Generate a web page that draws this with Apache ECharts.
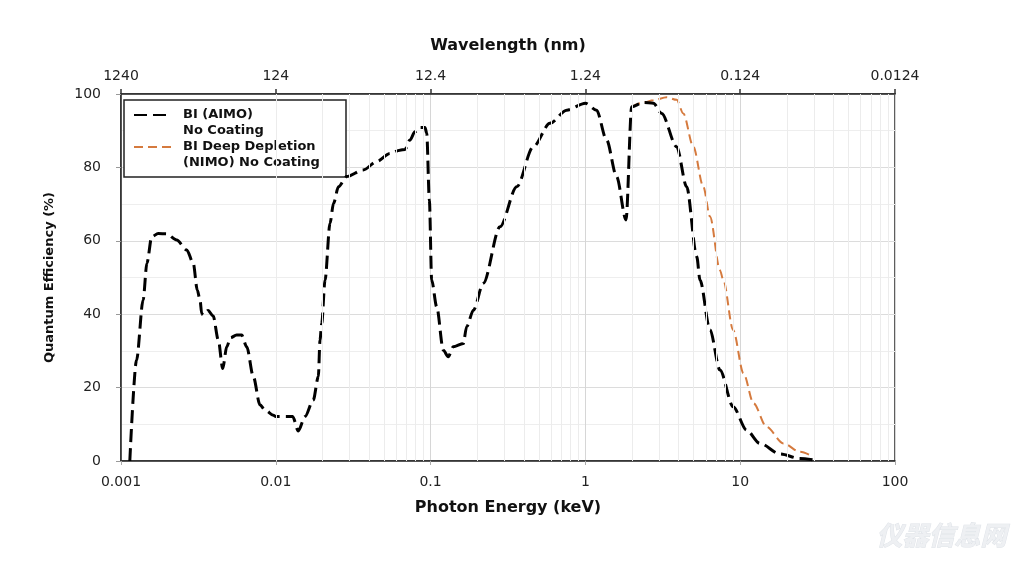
<!DOCTYPE html>
<html>
<head>
<meta charset="utf-8">
<script src="https://cdn.jsdelivr.net/npm/echarts@6/dist/echarts.min.js"></script>
<style>
html,body{margin:0;padding:0;background:#fff;}
#chart{width:1024px;height:569px;}
</style>
</head>
<body>
<div id="chart"></div>
<script>
// ---- data ----
const blackEnergy = [0.00114, 0.00126, 0.00139, 0.00147, 0.00158, 0.00174, 0.00197, 0.00229, 0.00266, 0.00293, 0.00311, 0.00324, 0.00332, 0.00339, 0.00365, 0.00394, 0.00425, 0.00454, 0.00482, 0.0051, 0.00558, 0.00602, 0.00649, 0.00716, 0.0079, 0.00851, 0.00964, 0.0100, 0.01285, 0.01397, 0.01545, 0.01746, 0.01883, 0.0193, 0.0198, 0.0208, 0.0224, 0.0236, 0.0254, 0.0287, 0.0367, 0.0449, 0.0547, 0.0634, 0.0684, 0.0736, 0.0792, 0.0855, 0.092, 0.0944, 0.0982, 0.1016, 0.1095, 0.1208, 0.130, 0.140, 0.1626, 0.171, 0.189, 0.219, 0.2806, 0.36, 0.46, 0.59, 0.757, 1.0, 1.18, 1.37, 1.59, 1.83, 1.99, 2.37, 2.75, 3.11, 3.89, 4.51, 5.24, 5.5, 6.38, 7.4, 9.0, 11.0, 13.4, 18.1, 24.3, 29.6];
const blackQE = [0, 27.5, 43.9, 53.9, 61.1, 62, 61.9, 60.2, 57.5, 53.9, 46.6, 43.9, 40.2, 39.8, 41, 39.5, 33, 25.2, 31.1, 33.6, 34.3, 34.3, 31.1, 23, 15.3, 13.9, 12.5, 12.1, 12.1, 8.2, 12.1, 16.6, 23, 33, 37.5, 49.3, 64.8, 70.2, 74.7, 77.5, 79.3, 81.6, 83.8, 84.7, 84.9, 87.5, 89.7, 90.9, 90.9, 89.3, 71, 49.3, 42, 30.2, 28.4, 31.1, 32, 36.6, 41.1, 48.4, 63.8, 74.7, 85.6, 92, 95.6, 97.5, 95.6, 87.5, 77.5, 65.7, 96.5, 97.7, 97.5, 94.7, 85.6, 74.7, 55.7, 49.3, 35.7, 24.8, 14.8, 8.4, 4.8, 1.9, 0.7, 0.3];

const orangeEnergy = [1.99, 2.37, 2.75, 3.35, 3.89, 4.29, 4.98, 5.78, 6.38, 7.4, 7.78, 9.0, 10.5, 12.2, 14.8, 19.0, 24.3, 29.6];
const orangeQE = [96.5, 97.7, 98.3, 99.1, 98.4, 94.7, 85.6, 74.7, 66.6, 52, 49.3, 35.7, 23.9, 15.7, 9.3, 4.8, 2.5, 1.2];

const energyTickLabels = ['0.001', '0.01', '0.1', '1', '10', '100'];
const wavelengthTickLabels = ['1240', '124', '12.4', '1.24', '0.124', '0.0124'];
const decades = [0.001, 0.01, 0.1, 1, 10];
const minorMultipliers = [2, 3, 4, 5, 6, 7, 8, 9];

const seriesNames = ['BI (AIMO) No Coating', 'BI Deep Depletion (NIMO) No Coating'];
const legendLabels = ['BI (AIMO)\nNo Coating', 'BI Deep Depletion\n(NIMO) No Coating'];

// ---- build ----
const blackData = blackEnergy.map((e, i) => [e, blackQE[i]]);
const orangeData = orangeEnergy.map((e, i) => [e, orangeQE[i]]);
const minorX = [];
decades.forEach(d => minorMultipliers.forEach(m => minorX.push(+(d * m).toPrecision(3))));

const FONT = 'DejaVu Sans';
const tickIdx = v => Math.round(Math.log10(v)) + 3;

const chart = echarts.init(document.getElementById('chart'), null, {renderer: 'canvas'});
chart.setOption({
  animation: false,
  backgroundColor: '#ffffff',
  grid: {left: 121, right: 129, top: 94, bottom: 108, show: true, borderColor: '#2a2a2a', borderWidth: 1.5, backgroundColor: 'transparent'},
  xAxis: [
    {
      type: 'log', logBase: 10, min: 0.001, max: 100, position: 'bottom',
      name: 'Photon Energy (keV)', nameLocation: 'middle', nameGap: 39,
      nameTextStyle: {fontFamily: FONT, fontWeight: 'bold', fontSize: 16, color: '#111'},
      axisLine: {show: true, lineStyle: {color: '#2a2a2a', width: 1.5}},
      axisTick: {show: true, length: 4, lineStyle: {color: '#aaa'}},
      axisLabel: {fontFamily: FONT, fontSize: 14, color: '#222', margin: 14, formatter: v => energyTickLabels[tickIdx(v)]},
      splitLine: {show: true, lineStyle: {color: '#d6d6d6', width: 1}},
      minorTick: {show: false}
    },
    {
      type: 'log', logBase: 10, min: 0.001, max: 100, position: 'top',
      name: 'Wavelength (nm)', nameLocation: 'middle', nameGap: 40,
      nameTextStyle: {fontFamily: FONT, fontWeight: 'bold', fontSize: 16, color: '#111'},
      axisLine: {show: true, lineStyle: {color: '#2a2a2a', width: 1.5}},
      axisTick: {show: true, length: 5, inside: false, lineStyle: {color: '#333', width: 1.5}},
      axisLabel: {fontFamily: FONT, fontSize: 14, color: '#222', margin: 11, formatter: v => wavelengthTickLabels[tickIdx(v)]},
      splitLine: {show: false}
    }
  ],
  yAxis: {
    type: 'value', min: 0, max: 100, interval: 20,
    name: 'Quantum Efficiency (%)', nameLocation: 'middle', nameGap: 65,
    nameTextStyle: {fontFamily: FONT, fontWeight: 'bold', fontSize: 13, color: '#111'},
    axisLine: {show: true, lineStyle: {color: '#2a2a2a', width: 1.5}},
    axisTick: {show: true, length: 5, lineStyle: {color: '#999'}},
    axisLabel: {fontFamily: FONT, fontSize: 14, color: '#222', margin: 20},
    splitLine: {show: true, lineStyle: {color: '#dcdcdc', width: 1}},
    minorTick: {show: false, splitNumber: 2},
    minorSplitLine: {show: true, lineStyle: {color: '#eeeeee', width: 1}}
  },
  legend: {
    orient: 'vertical', left: 133, top: 91, padding: 0,
    itemWidth: 37, itemHeight: 14, itemGap: -16,
    data: seriesNames,
    itemStyle: {opacity: 0},
    formatter: name => '\u00a0\n' + legendLabels[seriesNames.indexOf(name)],
    textStyle: {fontFamily: FONT, fontWeight: 'bold', fontSize: 13, color: '#111', lineHeight: 16, padding: [0, 0, 0, 7]}
  },
  graphic: [
    {type: 'rect', z: 1, shape: {x: 124, y: 100, width: 222, height: 77}, style: {fill: '#fff', stroke: '#222', lineWidth: 1.5}},
    {type: 'text', z: 1, left: 876, top: 522, style: {text: '仪器信息网', fontFamily: 'Noto Sans CJK SC', fontWeight: 'bold', fontStyle: 'italic', fontSize: 26, fill: '#eef0f3', stroke: '#dfe3e8', lineWidth: 1}}
  ],
  series: [
    {
      type: 'line', name: 'minor-grid', data: [], z: 0, silent: true, legendHoverLink: false,
      markLine: {
        silent: true, symbol: 'none', label: {show: false}, animation: false,
        lineStyle: {color: '#ececec', type: 'solid', width: 1},
        data: minorX.map(v => ({xAxis: v}))
      }
    },
    {
      type: 'line', name: seriesNames[1], data: orangeData, xAxisIndex: 0,
      symbol: 'none', smooth: 0.3, smoothMonotone: 'x', z: 2,
      lineStyle: {color: '#d57a3e', width: 2, type: [9, 5]},
      itemStyle: {color: '#d57a3e'}
    },
    {
      type: 'line', name: seriesNames[0], data: blackData, xAxisIndex: 0,
      symbol: 'none', smooth: 0.3, smoothMonotone: 'x', z: 3,
      lineStyle: {color: '#000', width: 3, type: [13, 6]},
      itemStyle: {color: '#000'}
    }
  ]
});
</script>
</body>
</html>
